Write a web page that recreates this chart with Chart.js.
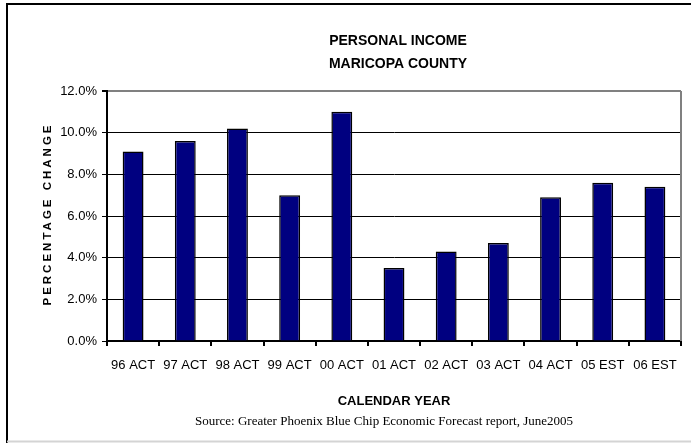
<!DOCTYPE html>
<html lang="en">
<head>
<meta charset="UTF-8">
<title>Personal Income - Maricopa County</title>
<script src="https://cdn.jsdelivr.net/npm/chart.js"></script>
<style>
  html, body { margin: 0; padding: 0; background: #fff; }
  #wrap { width: 691px; height: 443px; }
</style>
</head>
<body>
<div id="wrap"><canvas id="incomeChart" width="691" height="443"></canvas></div>
<script>
// data
var years = ['96 ACT', '97 ACT', '98 ACT', '99 ACT', '00 ACT', '01 ACT', '02 ACT', '03 ACT', '04 ACT', '05 EST', '06 EST'];
var pctChange = [9.1, 9.6, 10.2, 7.0, 11.0, 3.5, 4.3, 4.7, 6.9, 7.6, 7.4];
var titleLines = ['PERSONAL INCOME', 'MARICOPA COUNTY'];
var yTitle = 'PERCENTAGE CHANGE';
var xTitle = 'CALENDAR YEAR';
var sourceNote = 'Source: Greater Phoenix Blue Chip Economic Forecast report, June2005';

var sans = '"Liberation Sans", Arial, sans-serif';

// frame, titles and the plot border on the right
var decorations = {
  id: 'decorations',
  beforeDraw: function (chart) {
    var c = chart.ctx;
    c.save();
    c.fillStyle = '#fff';
    c.fillRect(0, 0, chart.width, chart.height);
    c.strokeStyle = '#000';
    c.lineWidth = 2;
    c.beginPath();
    c.moveTo(7, chart.height);
    c.lineTo(7, 4);
    c.lineTo(chart.width, 4);
    c.stroke();
    c.strokeStyle = '#d4d4d4';
    c.beginPath();
    c.moveTo(7, chart.height - 1.5);
    c.lineTo(chart.width, chart.height - 1.5);
    c.stroke();
    c.restore();
  },
  afterDraw: function (chart) {
    var c = chart.ctx;
    var a = chart.chartArea;
    c.save();
    c.strokeStyle = '#808080';
    c.lineWidth = 2;
    c.beginPath();
    c.moveTo(a.right, a.top);
    c.lineTo(a.right, a.bottom);
    c.stroke();

    c.fillStyle = '#000';
    c.textAlign = 'center';
    c.textBaseline = 'middle';
    c.font = 'bold 14px ' + sans;
    c.fillText(titleLines[0], 398, 41);
    c.fillText(titleLines[1], 398, 64);

    c.font = '13px "Liberation Serif", "Times New Roman", serif';
    c.fillText(sourceNote, 384, 422);

    c.translate(48, 214);
    c.rotate(-Math.PI / 2);
    c.font = 'bold 11.5px ' + sans;
    c.letterSpacing = '3px';
    c.fillText(yTitle, 0, 0);
    c.restore();
  }
};

new Chart(document.getElementById('incomeChart'), {
  type: 'bar',
  data: {
    labels: years,
    datasets: [{
      data: pctChange,
      backgroundColor: '#000080',
      borderColor: '#000',
      borderWidth: 1.5,
      barPercentage: 0.4,
      categoryPercentage: 1.0
    }]
  },
  options: {
    responsive: false,
    animation: false,
    layout: { padding: { left: 10, right: 10, top: 91, bottom: 0 } },
    plugins: {
      legend: { display: false },
      tooltip: { enabled: false }
    },
    scales: {
      x: {
        afterFit: function (scale) { scale.height = 102; },
        grid: {
          display: true,
          drawOnChartArea: false,
          drawTicks: true,
          tickLength: 5,
          color: '#000',
          lineWidth: 2
        },
        border: { color: '#000', width: 2 },
        ticks: {
          color: '#000',
          padding: 12,
          autoSkip: false,
          maxRotation: 0,
          font: { family: sans, size: 13 }
        },
        title: {
          display: true,
          text: xTitle,
          color: '#000',
          padding: { top: 0, bottom: 34 },
          font: { family: sans, size: 13, weight: 'bold' }
        }
      },
      y: {
        min: 0,
        max: 12,
        afterFit: function (scale) { scale.width = 97; },
        grid: {
          color: function (ctx) { return ctx.tick && ctx.tick.value === 12 ? '#808080' : '#000'; },
          lineWidth: function (ctx) { return ctx.tick && ctx.tick.value === 12 ? 2 : 1; },
          tickColor: '#000',
          tickLength: 5
        },
        border: { color: '#000', width: 2 },
        ticks: {
          stepSize: 2,
          color: '#000',
          padding: 5,
          font: { family: sans, size: 13 },
          callback: function (v) { return v.toFixed(1) + '%'; }
        }
      }
    }
  },
  plugins: [decorations]
});
</script>
</body>
</html>
